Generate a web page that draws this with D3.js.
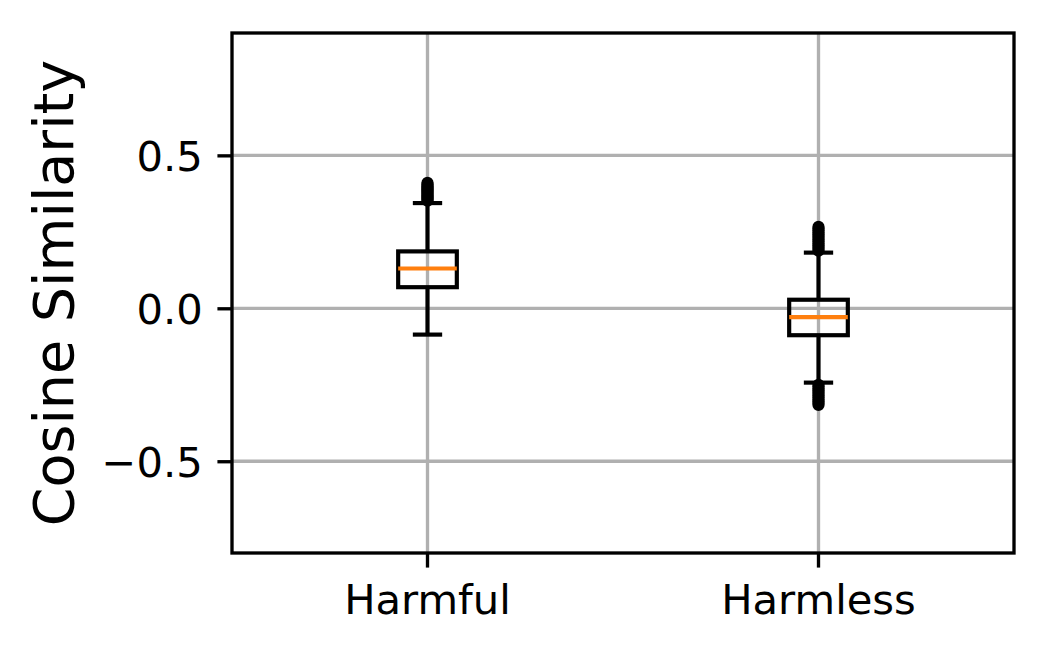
<!DOCTYPE html>
<html><head><meta charset="utf-8">
<script src="https://cdn.jsdelivr.net/npm/d3@7/dist/d3.min.js"></script>
<style>
html,body{margin:0;padding:0;background:#fff;}
svg{display:block;font-family:"DejaVu Sans",sans-serif;}
</style></head>
<body>
<svg id="chart" width="1048" height="659"></svg>
<script>
const categories = ["Harmful", "Harmless"];
const q1 = [0.069, -0.088];
const medians = [0.130, -0.029];
const q3 = [0.186, 0.028];
const whiskerLow = [-0.086, -0.243];
const whiskerHigh = [0.344, 0.182];
const harmfulOutliers = [0.352, 0.356, 0.360, 0.364, 0.368, 0.372, 0.376, 0.380, 0.384, 0.388, 0.392, 0.396, 0.400, 0.405, 0.410];
const harmlessOutliers = [0.188, 0.194, 0.200, 0.206, 0.212, 0.218, 0.224, 0.230, 0.236, 0.242, 0.248, 0.254, 0.260, 0.266,
  -0.250, -0.256, -0.262, -0.268, -0.274, -0.280, -0.286, -0.292, -0.298, -0.304, -0.310, -0.316];
const outliers = [harmfulOutliers, harmlessOutliers];
const yTicks = [-0.5, 0.0, 0.5];
const yDomain = [-0.8, 0.9];
const yLabel = "Cosine Similarity";

const svg = d3.select("#chart");
const L = 232, R = 1014, T = 33, B = 553;
const lw = 300/72; // 1pt in px

const x = d3.scaleBand().domain(categories).range([L, R]).padding(0);
const y = d3.scaleLinear().domain(yDomain).range([B, T]);
const cx = c => x(c) + x.bandwidth() / 2;
const boxW = x.bandwidth() * 0.15;
const capW = boxW / 2;

// grid
const g = svg.append("g");
g.selectAll("line.hg").data(yTicks).join("line")
  .attr("x1", L).attr("x2", R).attr("y1", d => y(d)).attr("y2", d => y(d))
  .attr("stroke", "#b0b0b0").attr("stroke-width", 0.8*lw);
g.selectAll("line.vg").data(categories).join("line")
  .attr("x1", d => cx(d)).attr("x2", d => cx(d)).attr("y1", T).attr("y2", B)
  .attr("stroke", "#b0b0b0").attr("stroke-width", 0.8*lw);

// boxes
const bx = svg.append("g");
categories.forEach((c, i) => {
  const xc = cx(c);
  bx.append("line").attr("x1", xc).attr("x2", xc).attr("y1", y(q3[i])).attr("y2", y(whiskerHigh[i]))
    .attr("stroke", "#000").attr("stroke-width", lw);
  bx.append("line").attr("x1", xc).attr("x2", xc).attr("y1", y(q1[i])).attr("y2", y(whiskerLow[i]))
    .attr("stroke", "#000").attr("stroke-width", lw);
  [whiskerHigh[i], whiskerLow[i]].forEach(v => {
    bx.append("line").attr("x1", xc - capW/2).attr("x2", xc + capW/2).attr("y1", y(v)).attr("y2", y(v))
      .attr("stroke", "#000").attr("stroke-width", lw);
  });
  bx.append("rect").attr("x", xc - boxW/2).attr("width", boxW)
    .attr("y", y(q3[i])).attr("height", y(q1[i]) - y(q3[i]))
    .attr("fill", "none").attr("stroke", "#000").attr("stroke-width", lw).attr("stroke-linejoin", "miter");
  bx.append("line").attr("x1", xc - boxW/2).attr("x2", xc + boxW/2).attr("y1", y(medians[i])).attr("y2", y(medians[i]))
    .attr("stroke", "#ff7f0e").attr("stroke-width", lw);
  bx.selectAll(null).data(outliers[i]).join("circle")
    .attr("cx", xc).attr("cy", d => y(d)).attr("r", 4.8)
    .attr("fill", "none").attr("stroke", "#000").attr("stroke-width", 2.6);
});

// spines
svg.append("rect").attr("x", L).attr("y", T).attr("width", R - L).attr("height", B - T)
  .attr("fill", "none").attr("stroke", "#000").attr("stroke-width", 0.8*lw);

// y axis
const yAxis = svg.append("g").attr("transform", `translate(${L},0)`)
  .call(d3.axisLeft(y).tickValues(yTicks).tickSize(3.5*lw).tickPadding(3.5*lw)
    .tickFormat(d => d3.format(".1f")(d).replace("-", "\u2212")));
yAxis.select(".domain").remove();
yAxis.selectAll(".tick line").attr("stroke", "#000").attr("stroke-width", 0.8*lw);
yAxis.selectAll(".tick text").attr("font-size", 41.7).attr("fill", "#000")
  .attr("font-family", "DejaVu Sans").attr("dy", "0.36em");

// x axis
const xAxis = svg.append("g").attr("transform", `translate(0,${B})`)
  .call(d3.axisBottom(x).tickSize(3.5*lw).tickPadding(3.5*lw));
xAxis.select(".domain").remove();
xAxis.selectAll(".tick line").attr("stroke", "#000").attr("stroke-width", 0.8*lw);
xAxis.selectAll(".tick text").attr("font-size", 41.7).attr("fill", "#000")
  .attr("font-family", "DejaVu Sans").attr("dy", "0.76em");

// y label
svg.append("text").attr("transform", `translate(73,${(T + B)/2}) rotate(-90)`)
  .attr("text-anchor", "middle").attr("font-size", 55.5).attr("fill", "#000")
  .attr("font-family", "DejaVu Sans").text(yLabel);
</script>
</body></html>
